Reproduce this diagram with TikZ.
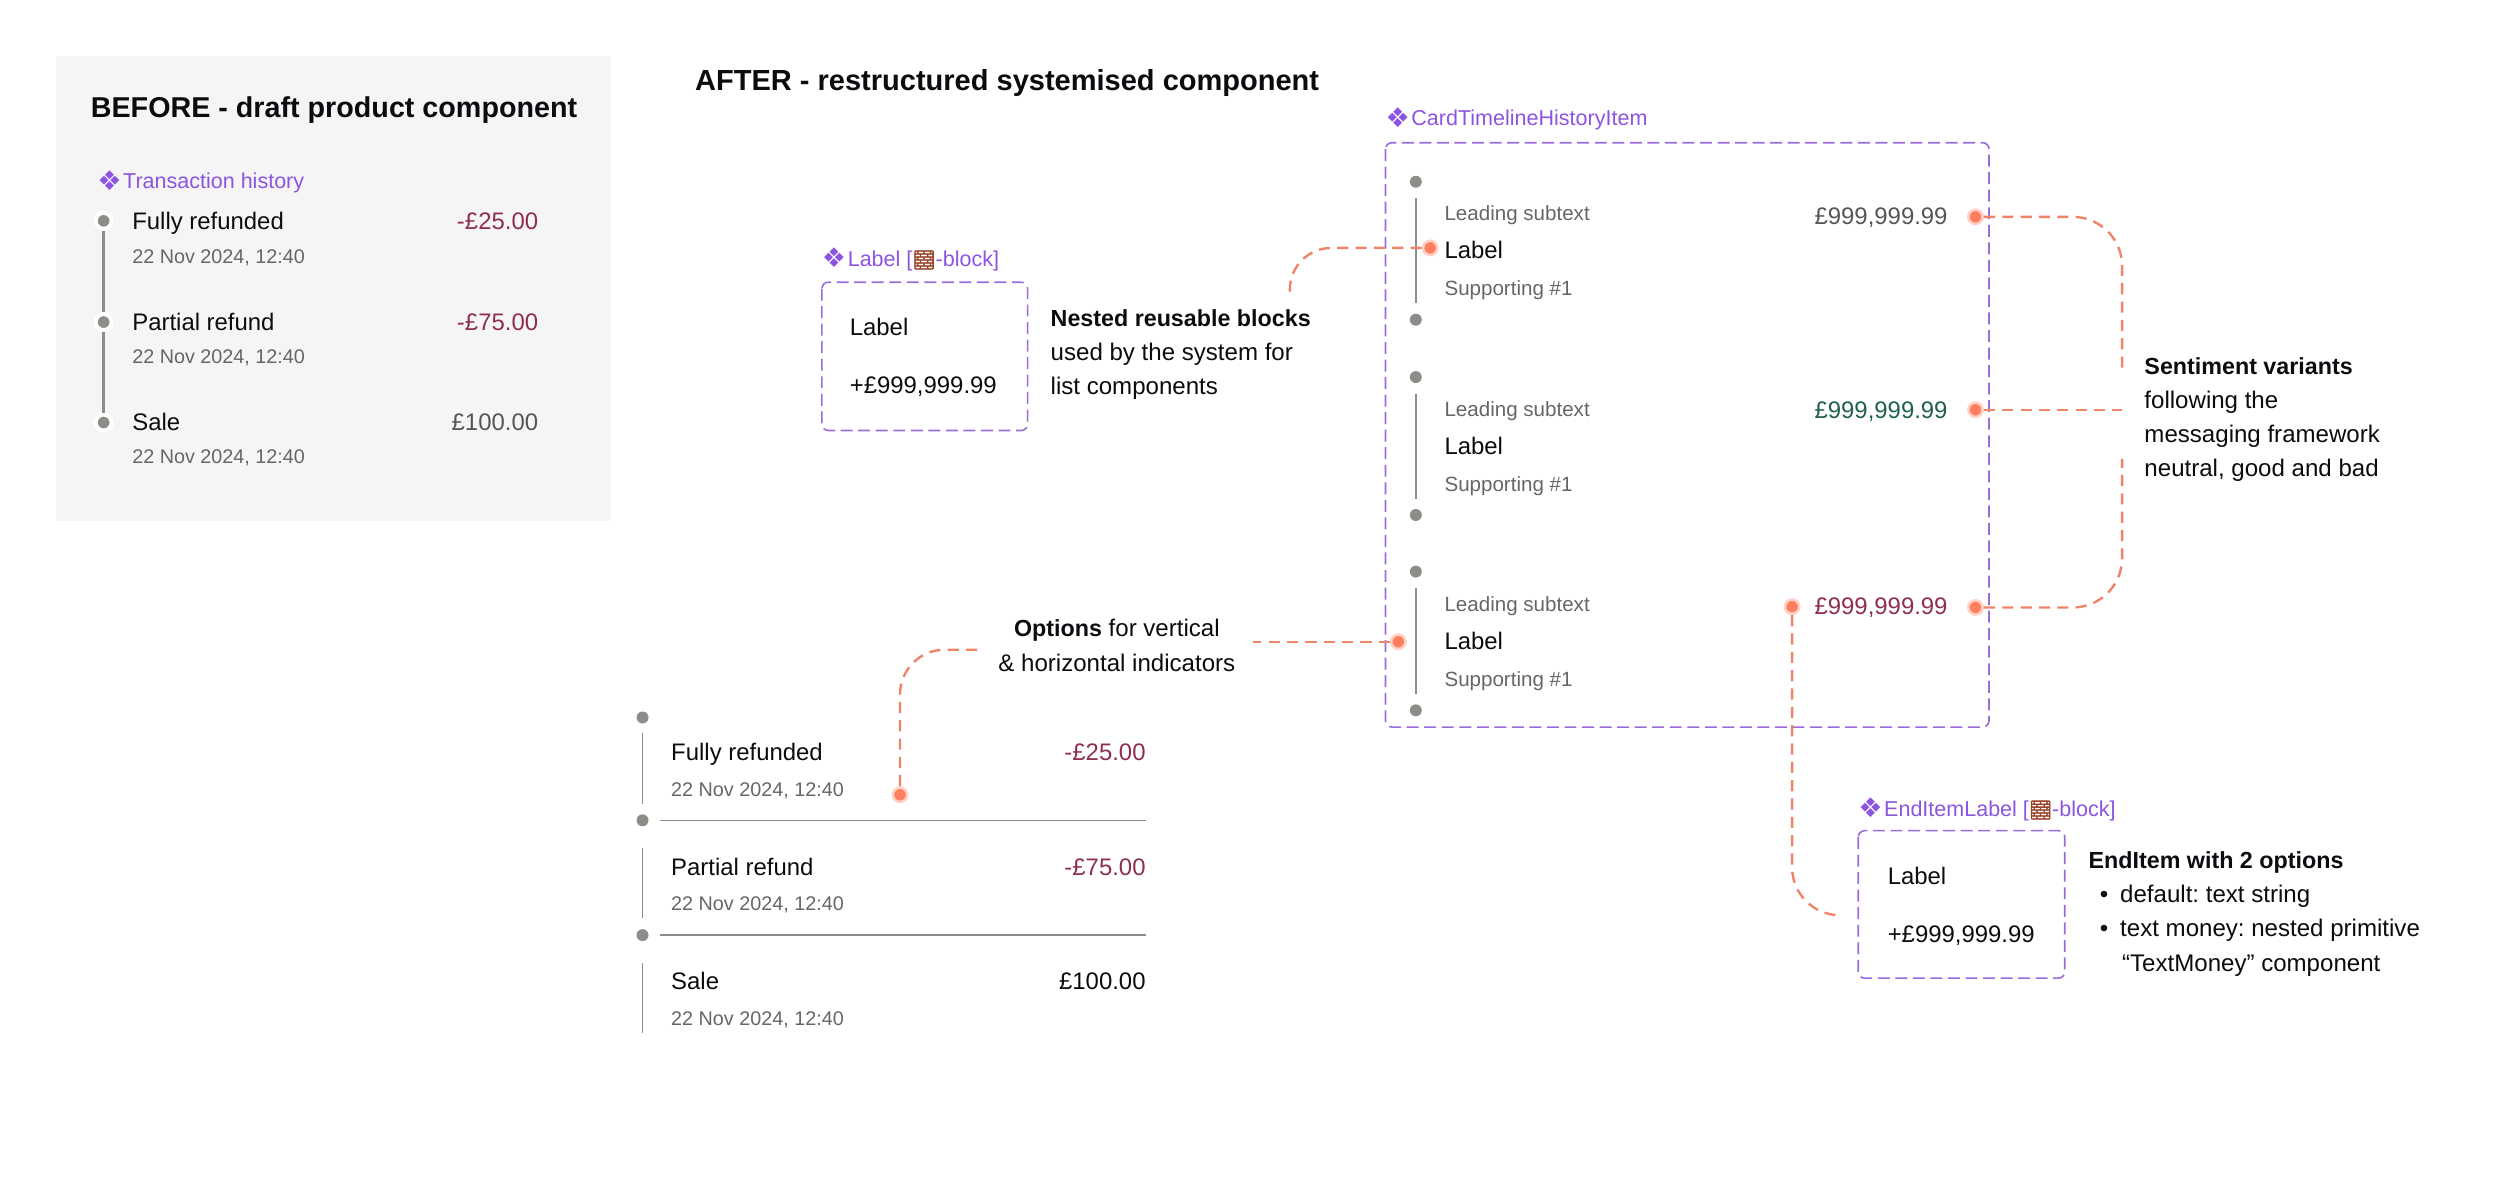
\documentclass[tikz,border=0pt]{standalone}
\usepackage{fontspec}
\setmainfont{Liberation Sans}
\newfontfamily\symbfont{DejaVu Sans}
\newfontfamily\emojifont[FakeBold=3]{Noto Emoji}
\usepackage{xcolor}
\usetikzlibrary{positioning}
\definecolor{compPurple}{HTML}{8C54E0}
\definecolor{boxPurple}{HTML}{9B6BDC}
\definecolor{coral}{HTML}{FF7F5F}
\definecolor{linkCoral}{HTML}{EE8468}
\definecolor{brickRed}{HTML}{9A4228}
\definecolor{ink}{HTML}{0B0C10}
\definecolor{soft}{HTML}{666666}
\definecolor{money}{HTML}{555555}
\definecolor{bad}{HTML}{8F2F4B}
\definecolor{good}{HTML}{1F5F50}
\definecolor{rail}{HTML}{8C8C88}
\definecolor{panel}{HTML}{F5F5F5}
\newcommand{\comp}{\raisebox{-1pt}{\fontsize{17}{17}\symbfont\char"2756}\kern1pt}
\newcommand{\brick}{{\fontsize{11.5}{11.5}\emojifont\textcolor{brickRed}{\char"1F9F1}}}
\newcommand{\itm}{\hspace*{7pt}\textbullet\hspace{7.5pt}}
\newcommand{\lead}[1]{{\fontsize{14.6}{21.5}\selectfont\bfseries #1}}
\frenchspacing

\begin{document}
\begin{tikzpicture}[
  x=1pt, y=-1pt,
  txt/.style={inner sep=0pt, outer sep=0pt, text height=10pt, text depth=0pt, color=ink},
  title/.style={txt, anchor=west, font=\fontsize{18}{18}\selectfont\bfseries, text height=13pt},
  tag/.style={txt, anchor=west, color=compPurple, font=\fontsize{13.5}{13.5}\selectfont},
  item/.style={txt, anchor=west, font=\fontsize{15}{15}\selectfont},
  date/.style={txt, anchor=west, color=soft, font=\fontsize{12.4}{12.4}\selectfont},
  sub/.style={txt, anchor=west, color=soft, font=\fontsize{12.9}{12.9}\selectfont},
  amount/.style={txt, anchor=east, font=\fontsize{15}{15}\selectfont},
  note/.style={inner sep=0pt, outer sep=0pt, anchor=north west, align=left, color=ink,
               font=\fontsize{15.1}{21.5}\selectfont},
  frame/.style={draw=boxPurple, line width=1pt, rounded corners=4pt, dash pattern=on 7.5pt off 3.5pt},
  knob/.style={circle, fill=rail, inner sep=0pt, minimum size=7.5pt},
  haloknob/.style={knob, draw=white, line width=2.5pt, minimum size=10pt},
  rule/.style={color=rail, line width=1pt},
  pin/.style={circle, fill=coral, draw=coral!35, line width=1.6pt, inner sep=0pt, minimum size=9pt},
  link/.style={color=linkCoral, line width=1.5pt, dash pattern=on 7pt off 4.5pt}
]

\useasboundingbox (0,0) rectangle (1568,739.5);

\fill[panel] (35,35) rectangle (383,327);
\node[title] (before) at (57,67) {BEFORE - draft product component};
\node[title, font=\fontsize{18.2}{18}\selectfont\bfseries] (after) at (436,50) {AFTER - restructured systemised component};

\node[tag] (history) at (61,113.5) {\comp Transaction history};
\node[haloknob] (a1) at (65,138.5) {};
\node[haloknob] (a2) at (65,202) {};
\node[haloknob] (a3) at (65,265) {};
\draw[rule, line width=1.6pt] (a1) -- (a2);
\draw[rule, line width=1.6pt] (a2) -- (a3);
\node[item] (a1t) at (83,139) {Fully refunded};
\node[date] (a1d) at (83,160) {22 Nov 2024, 12:40};
\node[amount, color=bad] (a1m) at (337.5,139) {-£25.00};
\node[item] (a2t) at (83,202) {Partial refund};
\node[date] (a2d) at (83,223) {22 Nov 2024, 12:40};
\node[amount, color=bad] (a2m) at (337.5,202) {-£75.00};
\node[item] (a3t) at (83,265) {Sale};
\node[date] (a3d) at (83,286) {22 Nov 2024, 12:40};
\node[amount, color=money] (a3m) at (337.5,265) {£100.00};

\node[tag] (labeltag) at (515.5,162) {\comp Label [\brick-block]};
\draw[frame] (515.5,177) rectangle (644.5,270);
\node[item] (lb1) at (533,205.5) {Label};
\node[item] (lb2) at (533,242) {+£999,999.99};
\node[note] (nested) at (659,194) {\lead{Nested reusable blocks}\\used by the system for\\list components};

\node[tag] (cardtag) at (869,74) {\comp CardTimelineHistoryItem};
\draw[frame] (869,89.5) rectangle (1247.5,456);

\node[knob] (c1) at (888,114) {};
\node[knob] (c2) at (888,200.5) {};
\node[knob] (c3) at (888,236.5) {};
\node[knob] (c4) at (888,323) {};
\node[knob] (c5) at (888,358.5) {};
\node[knob] (c6) at (888,445.5) {};
\draw[rule] (888,124) -- (888,190);
\draw[rule] (888,247) -- (888,313);
\draw[rule] (888,369) -- (888,435);

\node[sub] (r1a) at (906,133.5) {Leading subtext};
\node[item] (r1b) at (906,157) {Label};
\node[sub] (r1c) at (906,180.5) {Supporting \#1};
\node[amount, color=money] (r1m) at (1221.5,135.5) {£999,999.99};
\node[sub] (r2a) at (906,256) {Leading subtext};
\node[item] (r2b) at (906,280) {Label};
\node[sub] (r2c) at (906,303) {Supporting \#1};
\node[amount, color=good] (r2m) at (1221.5,257.5) {£999,999.99};
\node[sub] (r3a) at (906,378.5) {Leading subtext};
\node[item] (r3b) at (906,402.5) {Label};
\node[sub] (r3c) at (906,425.5) {Supporting \#1};
\node[amount, color=bad] (r3m) at (1221.5,380.5) {£999,999.99};

\node[note] (sentiment) at (1345,224) {\lead{Sentiment variants}\\following the\\messaging framework\\neutral, good and bad};
\node[note, align=center, anchor=north] (options) at (700.5,388.5) {\lead{Options} for vertical\\\& horizontal indicators};

\node[knob] (b1) at (403,450) {};
\node[knob] (b2) at (403,514.5) {};
\node[knob] (b3) at (403,586.5) {};
\draw[rule] (403,460) -- (403,504);
\draw[rule] (403,532) -- (403,576);
\draw[rule] (403,604) -- (403,648);
\draw[rule] (414,514.5) -- (719,514.5);
\draw[rule] (414,586.5) -- (719,586.5);
\node[item] (b1t) at (421,472) {Fully refunded};
\node[date] (b1d) at (421,494.5) {22 Nov 2024, 12:40};
\node[amount, color=bad] (b1m) at (718.5,472) {-£25.00};
\node[item] (b2t) at (421,544) {Partial refund};
\node[date] (b2d) at (421,566) {22 Nov 2024, 12:40};
\node[amount, color=bad] (b2m) at (718.5,544) {-£75.00};
\node[item] (b3t) at (421,615.5) {Sale};
\node[date] (b3d) at (421,638) {22 Nov 2024, 12:40};
\node[amount] (b3m) at (718.5,615.5) {£100.00};

\node[tag] (endtag) at (1165.5,507) {\comp EndItemLabel [\brick-block]};
\draw[frame] (1165.5,521) rectangle (1295,613.5);
\node[item] (eb1) at (1184,550) {Label};
\node[item] (eb2) at (1184,586) {+£999,999.99};
\node[note] (enditem) at (1310,534) {\lead{EndItem with 2 options}\\\itm default: text string\\\itm text money: nested primitive\\\hspace*{21pt}“TextMoney” component};

\node[pin] (pLabel) at (897,155.5) {};
\node[pin] (pNeutral) at (1239,136) {};
\node[pin] (pGood) at (1239,257) {};
\node[pin] (pBad) at (1239,381) {};
\node[pin] (pEnd) at (1124,380.5) {};
\node[pin] (pInd) at (877,402.5) {};
\node[pin] (pOpt) at (564.5,498.5) {};

\coordinate (eNested) at (809,185);
\coordinate (eSentTop) at (1331,232);
\coordinate (eSentMid) at (1331,257);
\coordinate (eSentBot) at (1331,288);
\coordinate (eEnd) at (1155,574);
\coordinate (eInd) at (786,402.5);
\coordinate (eOpt) at (614,407.5);

\draw[link, rounded corners=26pt] (pLabel) -| (eNested);
\draw[link, rounded corners=31pt] (pNeutral) -| (eSentTop);
\draw[link] (pGood) -- (eSentMid);
\draw[link, rounded corners=31pt] (pBad) -| (eSentBot);
\draw[link, rounded corners=30pt] (pEnd) |- (eEnd);
\draw[link] (pInd) -- (eInd);
\draw[link, rounded corners=28pt] (pOpt) |- (eOpt);

\end{tikzpicture}
\end{document}
